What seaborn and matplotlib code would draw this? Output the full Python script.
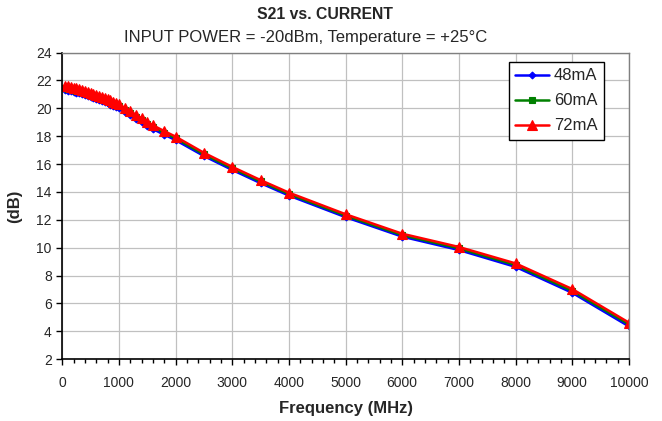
import matplotlib
matplotlib.use("Agg")
import matplotlib.pyplot as plt
from matplotlib.ticker import MultipleLocator
import pandas as pd
import seaborn as sns

# frequency points (MHz)
freq = [50, 100, 150, 200, 250, 300, 350, 400, 450, 500,
        550, 600, 650, 700, 750, 800, 850, 900, 950, 1000,
        1100, 1200, 1300, 1400, 1500, 1600, 1800, 2000, 2500, 3000,
        3500, 4000, 5000, 6000, 7000, 8000, 9000, 10000]

# S21 (dB) for each supply current
s21_48 = [21.30, 21.27, 21.23, 21.18, 21.13, 21.07, 21.01, 20.95, 20.88, 20.81,
          20.74, 20.67, 20.60, 20.52, 20.44, 20.36, 20.27, 20.18, 20.09, 20.00,
          19.76, 19.51, 19.26, 19.01, 18.76, 18.51, 18.11, 17.72, 16.58, 15.58,
          14.63, 13.74, 12.19, 10.79, 9.83, 8.62, 6.76, 4.35]
s21_60 = [21.45, 21.42, 21.38, 21.33, 21.28, 21.22, 21.16, 21.10, 21.03, 20.96,
          20.89, 20.82, 20.75, 20.67, 20.59, 20.51, 20.42, 20.33, 20.24, 20.15,
          19.90, 19.65, 19.40, 19.15, 18.90, 18.65, 18.25, 17.85, 16.70, 15.70,
          14.75, 13.85, 12.30, 10.90, 9.95, 8.75, 6.90, 4.50]
s21_72 = [21.60, 21.57, 21.53, 21.48, 21.43, 21.37, 21.31, 21.25, 21.18, 21.11,
          21.04, 20.97, 20.90, 20.82, 20.74, 20.66, 20.57, 20.48, 20.39, 20.29,
          20.04, 19.79, 19.54, 19.29, 19.03, 18.78, 18.37, 17.97, 16.81, 15.80,
          14.85, 13.95, 12.40, 11.00, 10.05, 8.87, 7.03, 4.62]

series = {"48mA": s21_48, "60mA": s21_60, "72mA": s21_72}
colors = {"48mA": "#0000ff", "60mA": "#008000", "72mA": "#ff0000"}
markers = {"48mA": "D", "60mA": "s", "72mA": "^"}
msizes = {"48mA": 3.5, "60mA": 4.5, "72mA": 7}

df = pd.concat([pd.DataFrame({"freq": freq, "s21": v, "current": k})
                for k, v in series.items()], ignore_index=True)

sns.set_style("white")
plt.rcParams["font.family"] = ["Liberation Sans", "DejaVu Sans"]

fig = plt.figure(figsize=(6.62, 4.21), dpi=100)
ax = fig.add_axes([0.094, 0.147, 0.856, 0.728])

for name in series:
    sns.lineplot(data=df[df["current"] == name], x="freq", y="s21",
                 color=colors[name], marker=markers[name], markersize=msizes[name],
                 markeredgecolor=colors[name], markeredgewidth=0.8,
                 linewidth=1.8, label=name, ax=ax)

ax.set_xlim(0, 10000)
ax.set_ylim(2, 24)
ax.xaxis.set_major_locator(MultipleLocator(1000))
ax.xaxis.set_minor_locator(MultipleLocator(200))
ax.yaxis.set_major_locator(MultipleLocator(2))
ax.grid(True, which="major", color="#c0c0c0", linewidth=0.9)
ax.set_axisbelow(True)

ax.tick_params(axis="both", which="major", direction="out", length=4, width=1,
               color="black", labelsize=10, bottom=True, left=True)
ax.tick_params(axis="x", which="minor", direction="out", length=3, width=1,
               color="black", bottom=True)
ax.tick_params(axis="x", pad=8)

for s in ["left", "bottom"]:
    ax.spines[s].set_color("black")
    ax.spines[s].set_linewidth(1.2)
for s in ["top", "right"]:
    ax.spines[s].set_color("#808080")
    ax.spines[s].set_linewidth(1.0)

ax.set_xlabel("Frequency (MHz)", fontsize=12, fontweight="bold", labelpad=8)
ax.set_ylabel("(dB)", fontsize=12, fontweight="bold", labelpad=10)

fig.text(0.491, 0.965, "S21 vs. CURRENT", ha="center", va="center",
         fontsize=11.3, fontweight="bold")
fig.text(0.462, 0.910, "INPUT POWER = -20dBm, Temperature = +25°C",
         ha="center", va="center", fontsize=12)

leg = ax.legend(loc="upper right", bbox_to_anchor=(0.956, 0.970), fontsize=12,
                frameon=True, fancybox=False, handlelength=2.0,
                borderpad=0.4, labelspacing=0.6, handletextpad=0.3, borderaxespad=0)
leg.get_frame().set_edgecolor("black")
leg.get_frame().set_linewidth(1.0)
leg.get_frame().set_alpha(1)

fig.savefig("out.png", dpi=100)
